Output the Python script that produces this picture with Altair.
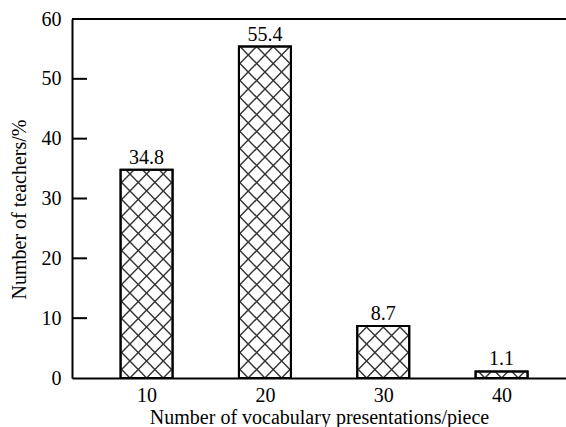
import altair as alt
import pandas as pd

# ---- data ----
presentations = [10, 20, 30, 40]
teachers_pct = [34.8, 55.4, 8.7, 1.1]
x_tick_values = [10, 20, 30, 40]
y_tick_values = [0, 10, 20, 30, 40, 50, 60]
inner_tick_values = [10, 20, 30, 40, 50]
x_title = "Number of vocabulary presentations/piece"
y_title = "Number of teachers/%"

# ---- layout / style ----
X_DOMAIN = [4.12, 45.02]
Y_DOMAIN = [0, 60]
W, H = 494, 359
BAR_PX = 52
PERIOD = 17
FONT = "Liberation Serif"

sx = W / (X_DOMAIN[1] - X_DOMAIN[0])
sy = H / (Y_DOMAIN[1] - Y_DOMAIN[0])

bars = pd.DataFrame({"n": presentations, "pct": teachers_pct})
bars["label"] = [f"{v:.1f}" for v in teachers_pct]

# cross-hatch lines derived from the bars through the scale factors
segs = []
for c, v in zip(presentations, teachers_pct):
    bw = BAR_PX
    bh = v * sy
    xl = c - bw / 2 / sx
    for m in range(-10, 40):
        k = -bw / 2 + PERIOD * m          # y = x + k
        lo, hi = max(0, -k), min(bw, bh - k)
        if hi > lo:
            segs.append(dict(hx=xl + lo / sx, hx2=xl + hi / sx,
                             hy=(lo + k) / sy, hy2=(hi + k) / sy))
        k2 = bw / 2 + PERIOD * m          # y = -x + k2
        lo, hi = max(0, k2 - bh), min(bw, k2)
        if hi > lo:
            segs.append(dict(hx=xl + lo / sx, hx2=xl + hi / sx,
                             hy=(k2 - lo) / sy, hy2=(k2 - hi) / sy))
hatch_df = pd.DataFrame(segs)

xs = alt.Scale(domain=X_DOMAIN, nice=False, zero=False)
ys = alt.Scale(domain=Y_DOMAIN, nice=False)

x_axis = alt.Axis(values=x_tick_values, ticks=False,
                  labelPadding=7, titleBaseline="alphabetic", titleY=45,
                  titleX=W / 2)
y_axis = alt.Axis(values=y_tick_values, ticks=False,
                  labelPadding=11, titleAngle=-90, titleBaseline="alphabetic",
                  titleAlign="center", titleX=-46.5, titleY=190)

base_bar = alt.Chart(bars).mark_bar(size=BAR_PX, fill="white", stroke="black",
                                    strokeWidth=2).encode(
    x=alt.X("n:Q", scale=xs, axis=x_axis, title=x_title),
    y=alt.Y("pct:Q", scale=ys, axis=y_axis, title=y_title),
)

hatch = alt.Chart(hatch_df).mark_rule(color="#333333", strokeWidth=1.4).encode(
    x=alt.X("hx:Q", scale=xs, title=x_title),
    x2="hx2:Q",
    y=alt.Y("hy:Q", scale=ys, title=y_title),
    y2="hy2:Q",
)

outline = alt.Chart(bars).mark_bar(size=BAR_PX, fill=None, fillOpacity=0,
                                   stroke="black", strokeWidth=2).encode(
    x=alt.X("n:Q", scale=xs, title=x_title),
    y=alt.Y("pct:Q", scale=ys, title=y_title),
)

labels = alt.Chart(bars).mark_text(baseline="alphabetic", dy=-6, fontSize=20,
                                   font=FONT, color="black").encode(
    x=alt.X("n:Q", scale=xs, title=x_title),
    y=alt.Y("pct:Q", scale=ys, title=y_title),
    text="label:N",
)

ticks = alt.Chart(pd.DataFrame({"t": inner_tick_values})).mark_rule(
    color="black", strokeWidth=2).encode(
    y=alt.Y("t:Q", scale=ys, title=y_title),
    x=alt.value(0), x2=alt.value(15),
)

top_line = alt.Chart(pd.DataFrame({"t": [Y_DOMAIN[1]]})).mark_rule(
    color="black", strokeWidth=2).encode(
    y=alt.Y("t:Q", scale=ys, title=y_title),
)

chart = alt.layer(base_bar, hatch, outline, labels, ticks, top_line).properties(
    width=W, height=H,
    autosize=alt.AutoSizeParams(type="none"),
    padding={"left": 72, "top": 19, "right": 0, "bottom": 49},
    background="white",
).configure_view(stroke=None).configure_axis(
    labelFontSize=20, labelFont=FONT, labelColor="black",
    titleFontSize=20, titleFont=FONT, titleColor="black",
    titleFontWeight="normal", domainColor="black", domainWidth=2,
    grid=False, ticks=False,
)

chart.save("out.html", embed_options={"renderer": "svg", "actions": False})
